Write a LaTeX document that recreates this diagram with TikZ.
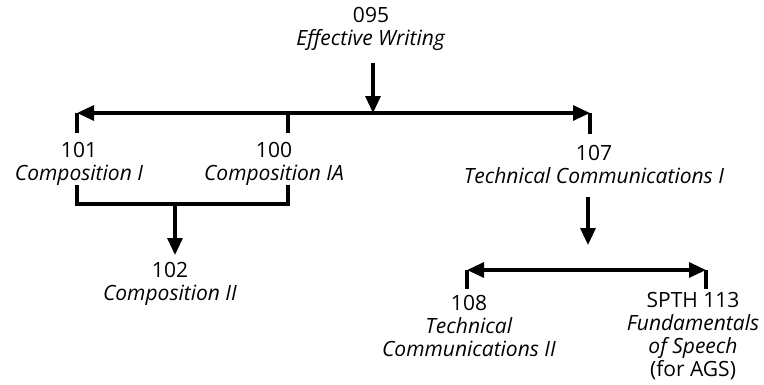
\documentclass[tikz,border=0pt]{standalone}
\usepackage{fontspec}
\setmainfont{Open Sans}
\usetikzlibrary{arrows.meta}
\usetikzlibrary{positioning}

\begin{document}
\begin{tikzpicture}[x=1pt, y=-1pt,
    font=\fontsize{21}{23}\selectfont,
    line width=3.2pt,
    >={Triangle[length=17pt,width=15pt]},
    course/.style={align=center, inner sep=0pt}]
    \path [use as bounding box] (0,0) rectangle (764,384);

    \node[name=c095, course] at (371,29) {095\\\textit{Effective Writing}};
    \node[name=c101, course] at (79,164) {101\\\textit{Composition I}};
    \node[name=c100, course] at (274,164) {100\\\textit{Composition IA}};
    \node[name=c107, course] at (594,164) {107\\\textit{Technical Communications I}};
    \node[name=c102, course] at (170,284) {102\\\textit{Composition II}};
    \node[name=c108, course] at (469,326)
      {108\\\textit{Technical}\\\textit{Communications II}};
    \node[name=c113, course] at (693,336)
      {SPTH 113\\\textit{Fundamentals}\\\textit{of Speech}\\(for AGS)};

    % top bar
    \coordinate (from095) at (373,63);
    \coordinate (bar095) at (373,113);
    \coordinate (barleft) at (77,113);
    \coordinate (barright) at (590,113);
    \coordinate (bar100) at (288,113);
    \coordinate (to101) at (77,133);
    \coordinate (to100) at (288,133);
    \coordinate (to107) at (590,134);

    % bracket to 102
    \coordinate (from101) at (77,185);
    \coordinate (from100) at (288,185);
    \coordinate (joinleft) at (77,204);
    \coordinate (joinright) at (288,204);
    \coordinate (join102) at (175,204);
    \coordinate (to102) at (175,255);

    % bottom bar
    \coordinate (from107) at (588,197);
    \coordinate (bar107) at (588,245);
    \coordinate (lowleft) at (467,270);
    \coordinate (lowright) at (706,270);
    \coordinate (to108) at (467,289);
    \coordinate (to113) at (706,289);

    \path (from095) edge[->] (bar095);
    \path (barleft) edge[<->] (barright);
    \path (barleft) edge (to101);
    \path (bar100) edge (to100);
    \path (barright) edge (to107);

    \draw (from101) -- (joinleft) -- (joinright) -- (from100);
    \path (join102) edge[->] (to102);

    \path (from107) edge[->] (bar107);
    \path (lowleft) edge[<->] (lowright);
    \path (lowleft) edge (to108);
    \path (lowright) edge (to113);
  \end{tikzpicture}
\end{document}
